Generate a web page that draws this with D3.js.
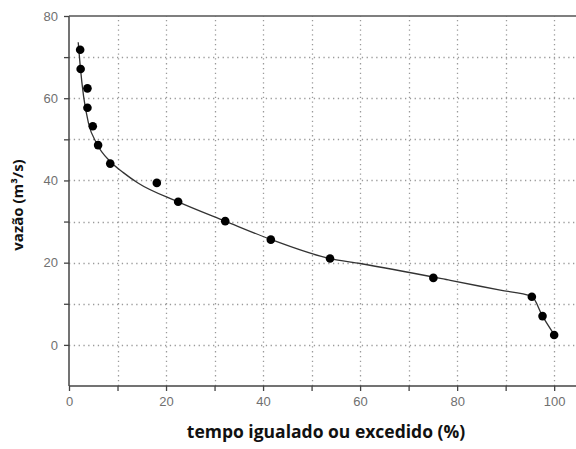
<!DOCTYPE html>
<html>
<head>
<meta charset="utf-8">
<script src="https://cdn.jsdelivr.net/npm/d3@7"></script>
<style>
  body { margin: 0; background: #fff; }
  svg { display: block; }
  .tick text { font-family: "Liberation Sans", Arial, sans-serif; font-size: 13px; fill: #707070; }
  .axis-title { font-family: "Open Sans", sans-serif; font-weight: bold; fill: #111; }
</style>
</head>
<body>
<svg width="576" height="449"></svg>
<script>
const width = 576,
    height = 449,
    margin = { top: 16, right: 0, bottom: 63, left: 69 };

// observed points (% time, flow m3/s)
const obsTime = [2.3, 2.4, 3.8, 3.8, 4.9, 6.0, 8.5, 18.1, 22.5, 32.2, 41.6, 53.8, 75.1, 95.4, 97.6, 100];
const obsFlow = [71.8, 67.1, 62.4, 57.7, 53.2, 48.6, 44.1, 39.4, 34.8, 30.1, 25.6, 21.0, 16.3, 11.7, 7.0, 2.4];

// fitted duration curve
const curveTime = [1.9, 2.3, 3.0, 4.0, 5.7, 8.5, 11.2, 14.3, 22.5, 32.2, 41.5, 53.8, 60, 78.6, 88.9, 95.4, 97.6, 100];
const curveFlow = [73.6, 68.0, 60.5, 54.0, 49.0, 44.6, 41.9, 39.3, 34.8, 30.1, 25.7, 21.0, 19.8, 15.7, 13.3, 11.8, 7.0, 2.5];

const xTicks = [0, 20, 40, 60, 80, 100];
const yTicks = [0, 20, 40, 60, 80];

const svg = d3.select('svg');

const x = d3.scaleLinear()
    .domain([0, 104.5])
    .range([margin.left, width - margin.right]);

const y = d3.scaleLinear()
    .domain([-10, 80])
    .range([height - margin.bottom, margin.top]);

const minorX = d3.range(10, 104, 10);
const minorY = d3.range(-10, 80, 10);

// grid
const grid = svg.append('g')
    .attr('stroke', '#9a9a9a')
    .attr('stroke-width', 1.3)
    .attr('stroke-dasharray', '1.3,3.5');

grid.selectAll('.vg')
    .data(minorX)
    .enter().append('line')
    .attr('x1', d => Math.round(x(d)) + 0.5)
    .attr('x2', d => Math.round(x(d)) + 0.5)
    .attr('y1', y(-10))
    .attr('y2', y(80));

grid.selectAll('.hg')
    .data(minorY.filter(d => d > -10))
    .enter().append('line')
    .attr('y1', d => Math.round(y(d)) + 0.5)
    .attr('y2', d => Math.round(y(d)) + 0.5)
    .attr('x1', x(0))
    .attr('x2', width);

// axes
const xAxis = svg.append('g')
    .attr('transform', 'translate(0,' + y(-10) + ')')
    .call(d3.axisBottom(x).tickValues(d3.range(0, 104, 10)).tickSize(5).tickPadding(6)
        .tickFormat(d => xTicks.includes(d) ? d : ''));

const yAxis = svg.append('g')
    .attr('transform', 'translate(' + x(0) + ',0)')
    .call(d3.axisLeft(y).tickValues(d3.range(0, 81, 10)).tickSize(5).tickPadding(6)
        .tickFormat(d => yTicks.includes(d) ? d : ''));

[xAxis, yAxis].forEach(a => {
    a.select('.domain').remove();
    a.selectAll('.tick line').attr('stroke', '#444').attr('stroke-width', 1.3);
});

// frame lines: left, bottom, top
svg.append('line')
    .attr('x1', x(0)).attr('x2', x(0))
    .attr('y1', y(80)).attr('y2', y(-10))
    .attr('stroke', '#444').attr('stroke-width', 1.5);
svg.append('line')
    .attr('x1', x(0)).attr('x2', width)
    .attr('y1', y(-10)).attr('y2', y(-10))
    .attr('stroke', '#444').attr('stroke-width', 1.5);
svg.append('line')
    .attr('x1', x(0)).attr('x2', width)
    .attr('y1', y(80)).attr('y2', y(80))
    .attr('stroke', '#555').attr('stroke-width', 1.5);

// fitted curve
const curveData = curveTime.map((t, i) => ({ t: t, q: curveFlow[i] }));
const line = d3.line()
    .x(d => x(d.t))
    .y(d => y(d.q))
    .curve(d3.curveMonotoneX);

svg.append('path')
    .datum(curveData)
    .attr('fill', 'none')
    .attr('stroke', '#333')
    .attr('stroke-width', 1.3)
    .attr('d', line);

// observed points
const obs = obsTime.map((t, i) => ({ t: t, q: obsFlow[i] }));
svg.selectAll('.pt')
    .data(obs)
    .enter().append('circle')
    .attr('cx', d => x(d.t))
    .attr('cy', d => y(d.q))
    .attr('r', 4.3)
    .attr('fill', '#000');

// titles
svg.append('text')
    .attr('class', 'axis-title')
    .attr('x', 326)
    .attr('y', 438)
    .attr('text-anchor', 'middle')
    .style('font-size', '17.5px')
    .text('tempo igualado ou excedido (%)');

svg.append('text')
    .attr('class', 'axis-title')
    .attr('transform', 'translate(23,205) rotate(-90)')
    .attr('text-anchor', 'middle')
    .style('font-size', '15px')
    .text('vazão (m³/s)');
</script>
</body>
</html>
